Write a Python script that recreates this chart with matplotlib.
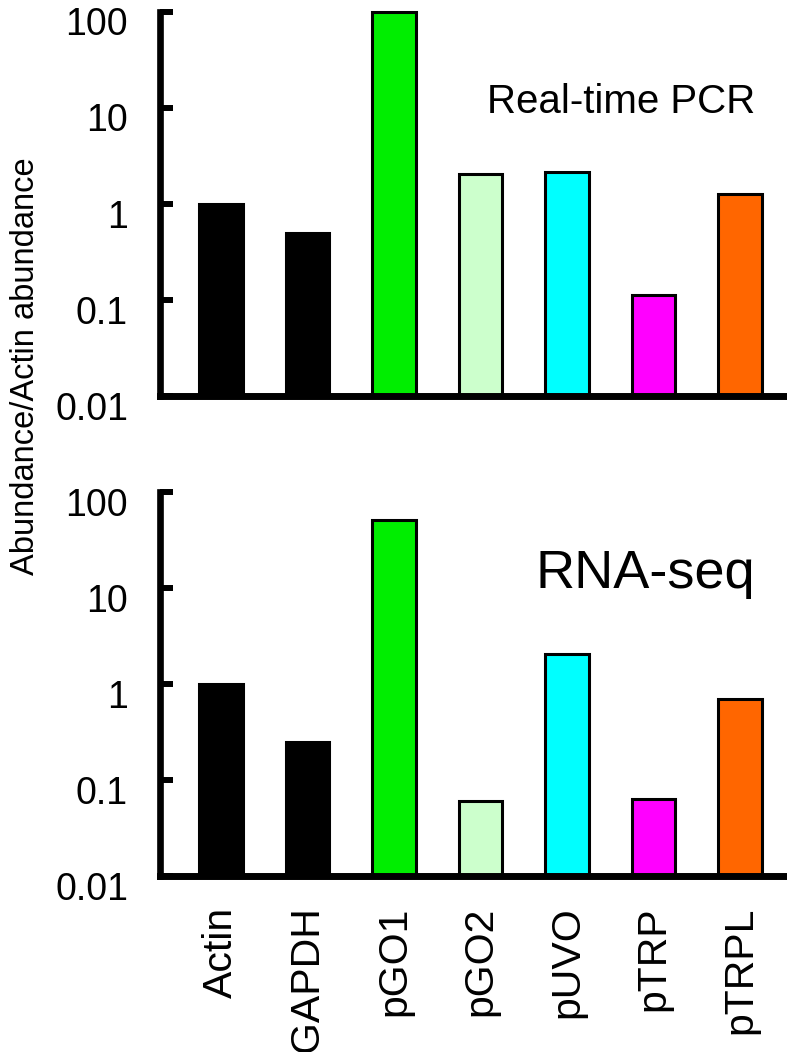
import numpy as np
import matplotlib
matplotlib.use("Agg")
import matplotlib.pyplot as plt
from matplotlib.transforms import ScaledTranslation

plt.rcParams['font.family'] = ['Liberation Sans', 'DejaVu Sans']

genes = ['Actin', 'GAPDH', 'pGO1', 'pGO2', 'pUVO', 'pTRP', 'pTRPL']
pcr_values = [1.0, 0.5, 100, 2.05, 2.15, 0.113, 1.27]
rnaseq_values = [1.0, 0.25, 52, 0.061, 2.07, 0.063, 0.70]
bar_colors = ['#000000', '#000000', '#00ee00', '#ccffcc', '#00ffff', '#ff00ff', '#ff6600']
ytick_values = [0.01, 0.1, 1, 10, 100]
ytick_labels = ['0.01', '0.1', '1', '10', '100']
y_floor = 0.01


def draw_panel(fig, ax, values, label, label_size, label_y):
    x = np.arange(len(genes))
    # bars start at the axis floor so nothing spills below it
    heights = np.asarray(values) - y_floor
    ax.bar(x, heights, bottom=y_floor, width=0.5, color=bar_colors,
           edgecolor='black', linewidth=2.2, clip_on=False, zorder=2)
    ax.set_yscale('log')
    ax.set_ylim(y_floor, 100)
    ax.set_xlim(-0.705, 6.52)
    ax.set_yticks(ytick_values)
    ax.set_yticklabels(ytick_labels)
    ax.yaxis.set_minor_locator(matplotlib.ticker.NullLocator())
    ax.tick_params(axis='y', direction='in', length=9, width=4.3,
                   labelsize=27, pad=23)
    ax.tick_params(axis='x', length=0)
    # labels in the original sit a little below their ticks
    shift = ScaledTranslation(0, -7 / 72, fig.dpi_scale_trans)
    for t in ax.get_yticklabels():
        t.set_transform(t.get_transform() + shift)
    for side in ['top', 'right']:
        ax.spines[side].set_visible(False)
    ax.spines['left'].set_linewidth(4.8)
    ax.spines['bottom'].set_linewidth(5)
    ax.spines['bottom'].set_zorder(3)
    ax.text(0.952, label_y, label, transform=ax.transAxes, ha='right',
            va='baseline', fontsize=label_size)
    ax.set_xticks(x)


fig = plt.figure(figsize=(7.87, 10.52), dpi=100)
ax_top = fig.add_axes([0.2033, 0.6236, 0.794, 0.3653])
ax_bot = fig.add_axes([0.2033, 0.1673, 0.794, 0.3647])

draw_panel(fig, ax_top, pcr_values, 'Real-time PCR', 29, 0.736)
draw_panel(fig, ax_bot, rnaseq_values, 'RNA-seq', 39, 0.751)

ax_top.set_xticklabels([])
ax_bot.set_xticklabels(genes, rotation=90, fontsize=29.5, ha='center', va='top')
ax_bot.tick_params(axis='x', pad=22)

fig.text(0.032, 1 - 366 / 1052, 'Abundance/Actin abundance', rotation=90,
         ha='center', va='center', fontsize=23.5)

fig.savefig('out.png', dpi=100)
